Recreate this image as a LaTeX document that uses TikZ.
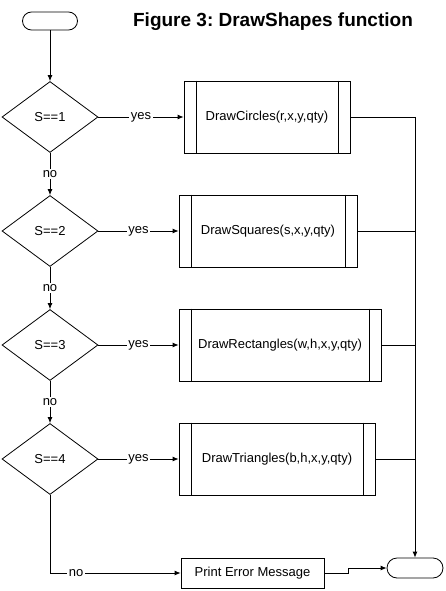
\documentclass[tikz,border=0pt]{standalone}
\usepackage{fontspec}
\setmainfont{Liberation Sans}
\frenchspacing
\usetikzlibrary{arrows.meta, shapes.geometric, calc}
\tikzset{
  every picture/.style={font=\fontsize{13}{15}\selectfont, line width=0.8pt},
  term/.style={draw, rounded corners=#1, minimum height=2*#1, inner sep=0pt},
  decision/.style={draw, diamond, inner sep=0pt, minimum width=96pt, minimum height=71pt},
  subproc/.style={draw, rectangle, inner sep=0pt, minimum height=72pt},
  process/.style={draw, rectangle, inner sep=0pt, minimum height=30pt, minimum width=143pt},
  arrow/.style={-{Latex[length=6pt, width=5pt]}},
  lbl/.style={fill=white, inner sep=1.5pt},
  title/.style={font=\fontsize{19}{22}\selectfont\bfseries},
}
\begin{document}
\begin{tikzpicture}[x=1pt, y=-1pt]
  \useasboundingbox (0,0) rectangle (445,591);
  \node[title, anchor=base] (ttl) at (273,27) {Figure 3: DrawShapes function};
  \node[term=9pt, minimum width=55pt] (start) at (50,21) {};
  \node[term=10pt, minimum width=56pt] (stop) at (415,568) {};
  \node[process] (err) at (252.5,573) {Print Error Message};
  % one test and one call per shape
  \foreach \i/\bx/\bw/\fn in {1/267/166/{DrawCircles(r,x,y,qty)}, 2/268/178/{DrawSquares(s,x,y,qty)},
      3/280/202/{DrawRectangles(w,h,x,y,qty)}, 4/277/196/{DrawTriangles(b,h,x,y,qty)}} {
    \node[decision] (d\i) at (50, 3+114*\i) {S==\i};
    \node[subproc, minimum width=\bw pt] (b\i) at (\bx, 3+114*\i) {\fn};
    \draw ([xshift=13pt]b\i.north west) -- ([xshift=13pt]b\i.south west);
    \draw ([xshift=-12pt]b\i.north east) -- ([xshift=-12pt]b\i.south east);
    \draw[arrow] (d\i.east) -- node[lbl] {yes} (b\i.west);
    \draw (b\i.east) -- (b\i.east -| stop.north);
  }
  \foreach \i [evaluate=\i as \j using int(\i+1)] in {1,2,3}
    \draw[arrow] (d\i.south) -- node[lbl] {no} (d\j.north);
  \draw[arrow] (start) -- (d1.north);
  \draw[arrow] (b1.east -| stop.north) -- (stop.north);
  \draw[arrow] (d4.south) |- node[lbl, pos=0.6] {no} (err.west);
  \draw[arrow] (err.east) -- ++(24,0) |- (stop.west);
\end{tikzpicture}
\end{document}
